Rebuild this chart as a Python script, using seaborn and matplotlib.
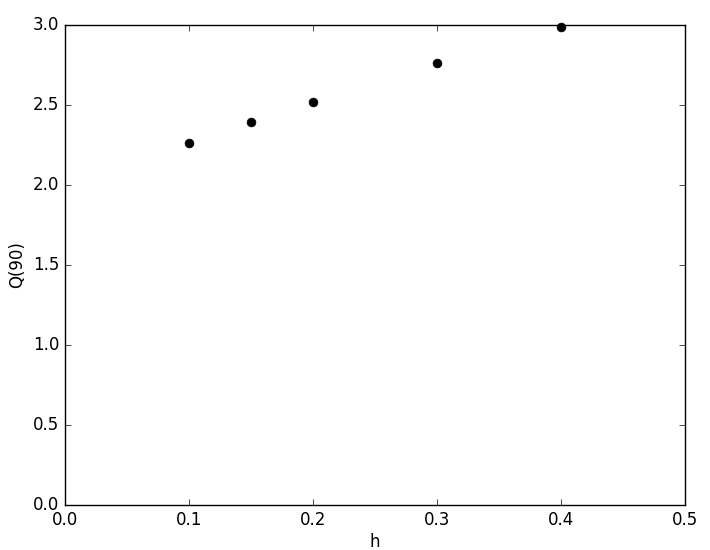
import matplotlib
import pandas as pd
import seaborn as sns
from matplotlib import pyplot as plt

matplotlib.use('agg')

h_values = [0.1, 0.15, 0.2, 0.3, 0.4]
q90_values = [2.26, 2.395, 2.52, 2.76, 2.985]

df = pd.DataFrame({"h": h_values, "Q(90)": q90_values})

plt.style.use('classic')
plt.rcParams['font.family'] = ['DejaVu Sans']

fig = plt.figure(figsize=(7.1, 5.5), dpi=100, facecolor='white')
ax = fig.add_axes([65 / 710, 45 / 550, 620 / 710, 480 / 550])
ax.set_facecolor('white')

sns.scatterplot(df, x="h", y="Q(90)", ax=ax, color='black', s=40,
                edgecolor='black', linewidth=0.5, zorder=3, clip_on=False)

ax.set_xlim(0.0, 0.5)
ax.set_ylim(0.0, 3.0)
ax.set_xticks([0.0, 0.1, 0.2, 0.3, 0.4, 0.5])
ax.set_yticks([0.0, 0.5, 1.0, 1.5, 2.0, 2.5, 3.0])
ax.set_xlabel("h", fontsize=12, labelpad=3)
ax.set_ylabel("Q(90)", fontsize=12)
ax.tick_params(labelsize=12, direction='in')

fig.savefig("out.png", dpi=100, facecolor='white')
plt.close()
